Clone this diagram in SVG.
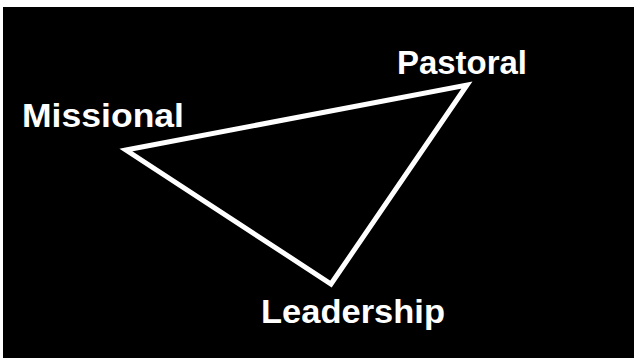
<svg xmlns="http://www.w3.org/2000/svg" width="634" height="358" viewBox="0 0 634 358">
<style>
.lbl{font-family:"Liberation Sans",Arial,sans-serif;font-weight:bold;font-size:33px;fill:#fff}
</style>
<rect width="634" height="358" fill="#fff"/>
<rect x="3" y="7" width="631" height="351" fill="#000"/>
<g id="connectors">
<polygon points="126,150 467,85 331,284" fill="none" stroke="#fff" stroke-width="5" stroke-linejoin="miter"/>
</g>
<g id="missional"><text class="lbl" x="22" y="127" textLength="162" lengthAdjust="spacingAndGlyphs">Missional</text></g>
<g id="pastoral"><text class="lbl" x="397" y="74" textLength="130" lengthAdjust="spacingAndGlyphs">Pastoral</text></g>
<g id="leadership"><text class="lbl" x="261" y="323" textLength="184" lengthAdjust="spacingAndGlyphs">Leadership</text></g>
</svg>
